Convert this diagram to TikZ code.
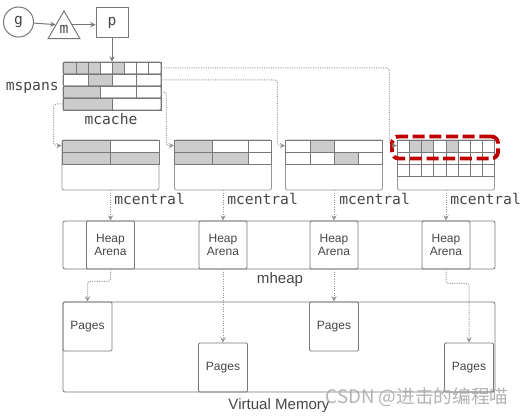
\documentclass[tikz,border=0pt]{standalone}
\usepackage{fontspec}
\setmainfont{Liberation Sans}
\newfontfamily\monofont{DejaVu Sans Mono}
\newfontfamily\cjkfont{Noto Sans CJK SC}
\usepackage{tikz}
\usetikzlibrary{positioning}
\usetikzlibrary{arrows,shapes}
\usetikzlibrary{shapes.geometric}
\usetikzlibrary{calc}
\definecolor{boxgray}{RGB}{150,150,150}
\definecolor{gridgray}{RGB}{120,120,120}
\definecolor{spanfill}{RGB}{204,204,204}
\definecolor{textgray}{RGB}{70,70,70}
\definecolor{markred}{RGB}{192,0,0}
\tikzstyle{cell}=[draw=gridgray, line width=0.6pt]
\tikzstyle{rowbox}=[draw=gridgray, line width=0.6pt, rounded corners=1pt, inner sep=0pt]
\tikzstyle{outerbox}=[draw=boxgray, line width=0.6pt, rounded corners=1.5pt, inner sep=0pt]
\tikzstyle{plainbox}=[draw=gridgray, line width=0.7pt, rounded corners=1pt, inner sep=0pt, text=textgray, font=\fontsize{9}{10}\selectfont, align=center]
\tikzstyle{monolabel}=[text=textgray, font=\monofont\fontsize{11}{13}\selectfont, inner sep=0pt]
\tikzstyle{sanslabel}=[text=textgray, font=\fontsize{11.3}{13}\selectfont, inner sep=0pt]
\tikzstyle{edge}=[draw=gridgray, line width=0.75pt, ->, >=stealth]
\tikzstyle{link}=[draw=boxgray, densely dotted, line width=0.75pt, rounded corners=2pt, ->, >=stealth]
\tikzstyle{marked}=[draw=markred, line width=2.9pt, dash pattern=on 9pt off 3.5pt, rounded corners=5pt, inner sep=0pt]

\begin{document}
\begin{tikzpicture}[x=0.75pt, y=-0.75pt]
    \useasboundingbox (0,0) rectangle (528,417);

    % g, m and p
    \node[circle, draw=gridgray, line width=0.75pt, minimum size=22.5pt, monolabel] (g) at (18.5,22) {g};
    \node[regular polygon, regular polygon sides=3, draw=gridgray, line width=0.75pt, minimum size=27.7pt, monolabel] (m) at (64,29.5) {m};
    \node[draw=gridgray, line width=0.75pt, minimum width=24pt, minimum height=22.5pt, monolabel] (p) at (112,23) {p};
    \draw[edge] (g) -- (m.side 1);
    \draw[edge] (m.side 3) -- (p.west |- m.side 3);

    % mspans of the mcache
    \foreach \ya/\yb/\cells in {62/74/{63/76/spanfill,76/88/spanfill,88/100/spanfill,100/112/white,112/124/spanfill,124/136/white,136/148/white,148/161/white},
                               74/86/{63/88/white,88/112/spanfill,112/136/white,136/161/white},
                               86/98/{63/100/spanfill,100/136/white,136/161/white},
                               98/110/{63/112/spanfill,112/161/white}}
        \foreach \xa/\xb/\f in \cells
            \draw[cell, fill=\f] (\xa,\ya) rectangle (\xb,\yb);
    \foreach \y/\name in {68/span1, 80/span2, 92/span3, 104/span4}
        \node[rowbox, minimum width=73.5pt, minimum height=9pt] (\name) at (112,\y) {};
    \draw[edge] (p) -- (span1);
    \node[monolabel, anchor=east] (mspans) at (59,88) {mspans};
    \node[monolabel] (mcache) at (111,119) {mcache};

    % mcentral boxes
    \foreach \x/\name in {110.5/cen1, 223/cen2, 334/cen3, 446/cen4}
        \node[outerbox, minimum width=72.75pt, minimum height=37.5pt] (\name) at (\x,165) {};
    \foreach \ya/\yb/\cells in {140/152/{62/110.5/spanfill,110.5/159/white},
                               152/164/{62/110.5/spanfill,110.5/159/spanfill},
                               140/152/{174.5/212/spanfill,212/248/white,248/271.5/white},
                               152/164/{174.5/212/spanfill,212/248/spanfill,248/271.5/white},
                               140/152/{285.5/310/white,310/334/spanfill,334/382.5/white},
                               152/164/{285.5/310/white,310/334/white,334/358/spanfill,358/382.5/white}}
        \foreach \xa/\xb/\f in \cells
            \draw[cell, fill=\f] (\xa,\ya) rectangle (\xb,\yb);
    \foreach \i/\f in {0/white,1/spanfill,2/spanfill,3/white,4/spanfill,5/white,6/white,7/white}
        \draw[cell, fill=\f] ({397.5+12.125*\i},140) rectangle ++(12.125,12);
    \foreach \y in {152,164}
        \foreach \i in {0,...,7}
            \draw[cell, fill=white] ({397.5+12.125*\i},\y) rectangle ++(12.125,12);
    \node[marked, minimum width=79.5pt, minimum height=16.5pt] (mark) at (445,147.5) {};

    % spans to the mcentrals
    \draw[link] (span4.west) -- ++(-9,0) |- ($(cen1.north west)+(0,6)$);
    \draw[link] (span3.east) -- ++(5,0) |- ($(cen2.north west)+(0,6)$);
    \draw[link] (span2.east) -- ++(116,0) |- ($(cen3.north west)+(0,6)$);
    \draw[link] (span1.east) -- ++(228,0) |- ($(cen4.north west)+(0,6)$);

    % mheap with its arenas
    \node[outerbox, draw=gridgray, minimum width=324pt, minimum height=36pt] (mheap) at (279,245) {};
    \foreach \x/\name in {110.5/ha1, 223/ha2, 334/ha3, 446/ha4}
        \node[plainbox, minimum width=36pt, minimum height=36pt] (\name) at (\x,245) {Heap\\Arena};
    \foreach \i in {1,...,4}
        \draw[link] (cen\i.south) -- (ha\i.north);
    \foreach \i/\x in {1/114, 2/227, 3/339, 4/450}
        \node[monolabel, anchor=west] (lbl\i) at (\x,199) {mcentral};
    \node[sanslabel] (mheaplbl) at (280,280) {mheap};

    % virtual memory with its pages
    \node[outerbox, draw=gridgray, minimum width=324pt, minimum height=67.5pt] (vm) at (279,347) {};
    \foreach \pos/\name in {{(87.5,326.5)/pg1}, {(223,367.5)/pg2}, {(334,326.5)/pg3}, {(469,367.5)/pg4}}
        \node[plainbox, minimum width=36.75pt, minimum height=36.75pt] (\name) at \pos {Pages};
    \draw[link] (ha1.south) -- ++(0,12) -| (pg1.north);
    \draw[link] (ha2.south) -- (pg2.north);
    \draw[link] (ha3.south) -- (pg3.north);
    \draw[link] (ha4.south) -- ++(0,14) -| (pg4.north);
    \node[sanslabel] (vmlbl) at (279,406) {Virtual Memory};

    \node[text=gray!70, opacity=0.85, font=\cjkfont\fontsize{14}{16}\selectfont, inner sep=0pt] (mark2) at (417,397) {CSDN @进击的编程喵};
\end{tikzpicture}
\end{document}
